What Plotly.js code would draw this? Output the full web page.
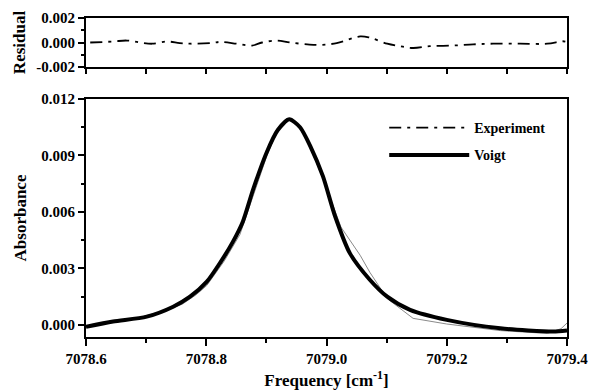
<!DOCTYPE html>
<html>
<head>
<meta charset="utf-8">
<script src="https://cdn.plot.ly/plotly-3.0.1.min.js"></script>
<style>
html,body{margin:0;padding:0;background:#fff;}
#chart{width:591px;height:391px;}
</style>
</head>
<body>
<div id="chart"></div>
<script>
// Voigt fit (absorbance)
const voigtFreq = [7078.600, 7078.645, 7078.701, 7078.745, 7078.773, 7078.801, 7078.823, 7078.844, 7078.861, 7078.878, 7078.901, 7078.919, 7078.938, 7078.956, 7078.973, 7078.994, 7079.014, 7079.039, 7079.072, 7079.101, 7079.139, 7079.200, 7079.289, 7079.377, 7079.400];
const voigtAbs  = [-0.00010, 0.00018, 0.00044, 0.00097, 0.0015, 0.0023, 0.0033, 0.0044, 0.0055, 0.0072, 0.0092, 0.01035, 0.01092, 0.0105, 0.0095, 0.0079, 0.0058, 0.0038, 0.0024, 0.0015, 0.0008, 0.00027, -0.00018, -0.00035, -0.0003];

// Experimental absorbance
const expFreq = [7078.600, 7078.645, 7078.690, 7078.735, 7078.760, 7078.783, 7078.801, 7078.830, 7078.856, 7078.878, 7078.901, 7078.919, 7078.938, 7078.956, 7078.973, 7078.994, 7079.014, 7079.024, 7079.056, 7079.072, 7079.101, 7079.144, 7079.200, 7079.289, 7079.367, 7079.390, 7079.400];
const expAbs  = [-0.00012, 0.00022, 0.0004, 0.0008, 0.0011, 0.0016, 0.0021, 0.0034, 0.0048, 0.0068, 0.0090, 0.0104, 0.0109, 0.0105, 0.0094, 0.0078, 0.0060, 0.0052, 0.0037, 0.0028, 0.0014, 0.00035, 0.00005, -0.0003, -0.00045, -0.0002, 0.0001];

// Residual
const resFreq = [7078.607, 7078.645, 7078.668, 7078.690, 7078.710, 7078.735, 7078.756, 7078.773, 7078.811, 7078.823, 7078.851, 7078.876, 7078.893, 7078.918, 7078.939, 7078.968, 7078.989, 7079.017, 7079.056, 7079.072, 7079.101, 7079.122, 7079.144, 7079.172, 7079.210, 7079.244, 7079.277, 7079.322, 7079.367, 7079.393, 7079.400];
const resVal  = [0, 0.00008, 0.00016, 0, -0.0001, 0.00008, -0.00005, -0.0001, -0.00003, 0.00005, -0.0001, -0.00025, 0, 0.00016, 0, -0.00015, -0.0002, -0.00005, 0.0005, 0.0004, -0.0001, -0.0003, -0.00045, -0.0003, -0.00025, -0.00015, -0.0001, -0.0001, -0.0001, 0.0001, 0.00005];

// Tick labels
const absTickVals = [0, 0.003, 0.006, 0.009, 0.012];
const absTickText = ['0.000', '0.003', '0.006', '0.009', '0.012'];
const resTickVals = [-0.002, 0, 0.002];
const resTickText = ['-0.002', '0.000', '0.002'];
const freqTickVals = [7078.6, 7078.8, 7079.0, 7079.2, 7079.4];
const freqTickText = ['7078.6', '7078.8', '7079.0', '7079.2', '7079.4'];

const xRange = [7078.6, 7079.4];
const absRange = [-0.00064, 0.012];
const resRange = [-0.002, 0.002];

const FONT = 'Liberation Serif, Times New Roman, serif';

const traces = [
  {x: expFreq, y: expAbs, xaxis: 'x', yaxis: 'y', mode: 'lines', name: 'Experiment (data)',
   line: {color: '#8a8a8a', width: 1}, showlegend: false, hoverinfo: 'skip'},
  {x: voigtFreq, y: voigtAbs, xaxis: 'x', yaxis: 'y', mode: 'lines', name: 'Voigt',
   line: {color: '#000', width: 4, shape: 'spline', smoothing: 0.7}, legendgroup: 'b', legendrank: 2},
  {x: resFreq, y: resVal, xaxis: 'x2', yaxis: 'y2', mode: 'lines', name: 'Experiment',
   line: {color: '#000', width: 1.8, dash: '12px,6px,3px,6px', shape: 'spline'}, legendgroup: 'a', legendrank: 1}
];

const common = {showgrid: false, zeroline: false, color: '#000', tickcolor: '#000',
  linecolor: '#000', tickfont: {family: FONT, size: 15, color: '#000', weight: 'bold'}};

const layout = {
  width: 591, height: 391,
  margin: {l: 86, r: 24, t: 18, b: 54},
  paper_bgcolor: '#fff', plot_bgcolor: '#fff',
  font: {family: FONT, color: '#000', weight: 'bold'},
  showlegend: true,
  legend: {x: 0.62, y: 0.705, xanchor: 'left', yanchor: 'top', bgcolor: 'rgba(0,0,0,0)',
    font: {family: FONT, size: 14, weight: 'bold'}, traceorder: 'grouped', tracegroupgap: 6, itemwidth: 80},
  xaxis: Object.assign({}, common, {domain: [0, 1], anchor: 'y', range: xRange,
    tickmode: 'array', tickvals: freqTickVals, ticktext: freqTickText,
    ticks: 'outside', ticklen: 7, tickwidth: 2, showline: true, linewidth: 2, mirror: true,
    minor: {dtick: 0.1, tick0: 7078.6, ticks: 'outside', ticklen: 4, tickwidth: 2, tickcolor: '#000'},
    title: {text: 'Frequency [cm<sup>-1</sup>]', font: {family: FONT, size: 17, weight: 'bold'}, standoff: 8}}),
  xaxis2: Object.assign({}, common, {domain: [0, 1], anchor: 'y2', range: xRange, matches: 'x',
    showticklabels: false, dtick: 0.1, tick0: 7078.6,
    ticks: 'outside', ticklen: 5, tickwidth: 2, showline: true, linewidth: 2, mirror: true}),
  xaxis3: Object.assign({}, common, {overlaying: 'x', anchor: 'y', side: 'top', range: xRange,
    showticklabels: false, dtick: 0.1, tick0: 7078.6, ticks: 'inside', ticklen: 6, tickwidth: 2, showline: false}),
  xaxis4: Object.assign({}, common, {overlaying: 'x2', anchor: 'y2', side: 'top', range: xRange,
    showticklabels: false, dtick: 0.1, tick0: 7078.6, ticks: 'inside', ticklen: 6, tickwidth: 2, showline: false}),
  yaxis: Object.assign({}, common, {domain: [0, 0.7461], anchor: 'x', range: absRange,
    tickmode: 'array', tickvals: absTickVals, ticktext: absTickText,
    ticks: 'outside', ticklen: 6, tickwidth: 2, showline: true, linewidth: 2, mirror: true,
    minor: {dtick: 0.0015, tick0: 0, ticks: 'outside', ticklen: 3, tickwidth: 2, tickcolor: '#000'},
    title: {text: 'Absorbance', font: {family: FONT, size: 17, weight: 'bold'}, standoff: 10}}),
  yaxis2: Object.assign({}, common, {domain: [0.8464, 1], anchor: 'x2', range: resRange,
    tickmode: 'array', tickvals: resTickVals, ticktext: resTickText,
    ticks: 'outside', ticklen: 6, tickwidth: 2, showline: true, linewidth: 2, mirror: true,
    minor: {dtick: 0.001, tick0: 0, ticks: 'outside', ticklen: 3, tickwidth: 2, tickcolor: '#000'},
    title: {text: 'Residual', font: {family: FONT, size: 17, weight: 'bold'}, standoff: 6}}),
  yaxis3: Object.assign({}, common, {overlaying: 'y', anchor: 'x', side: 'right', range: absRange,
    showticklabels: false, dtick: 0.0015, tick0: 0, ticks: 'inside', ticklen: 6, tickwidth: 2, showline: false}),
  yaxis4: Object.assign({}, common, {overlaying: 'y2', anchor: 'x2', side: 'right', range: resRange,
    showticklabels: false, dtick: 0.001, tick0: 0, ticks: 'inside', ticklen: 6, tickwidth: 2, showline: false})
};

Plotly.newPlot('chart', traces, layout, {displayModeBar: false, staticPlot: true});
</script>
</body>
</html>
